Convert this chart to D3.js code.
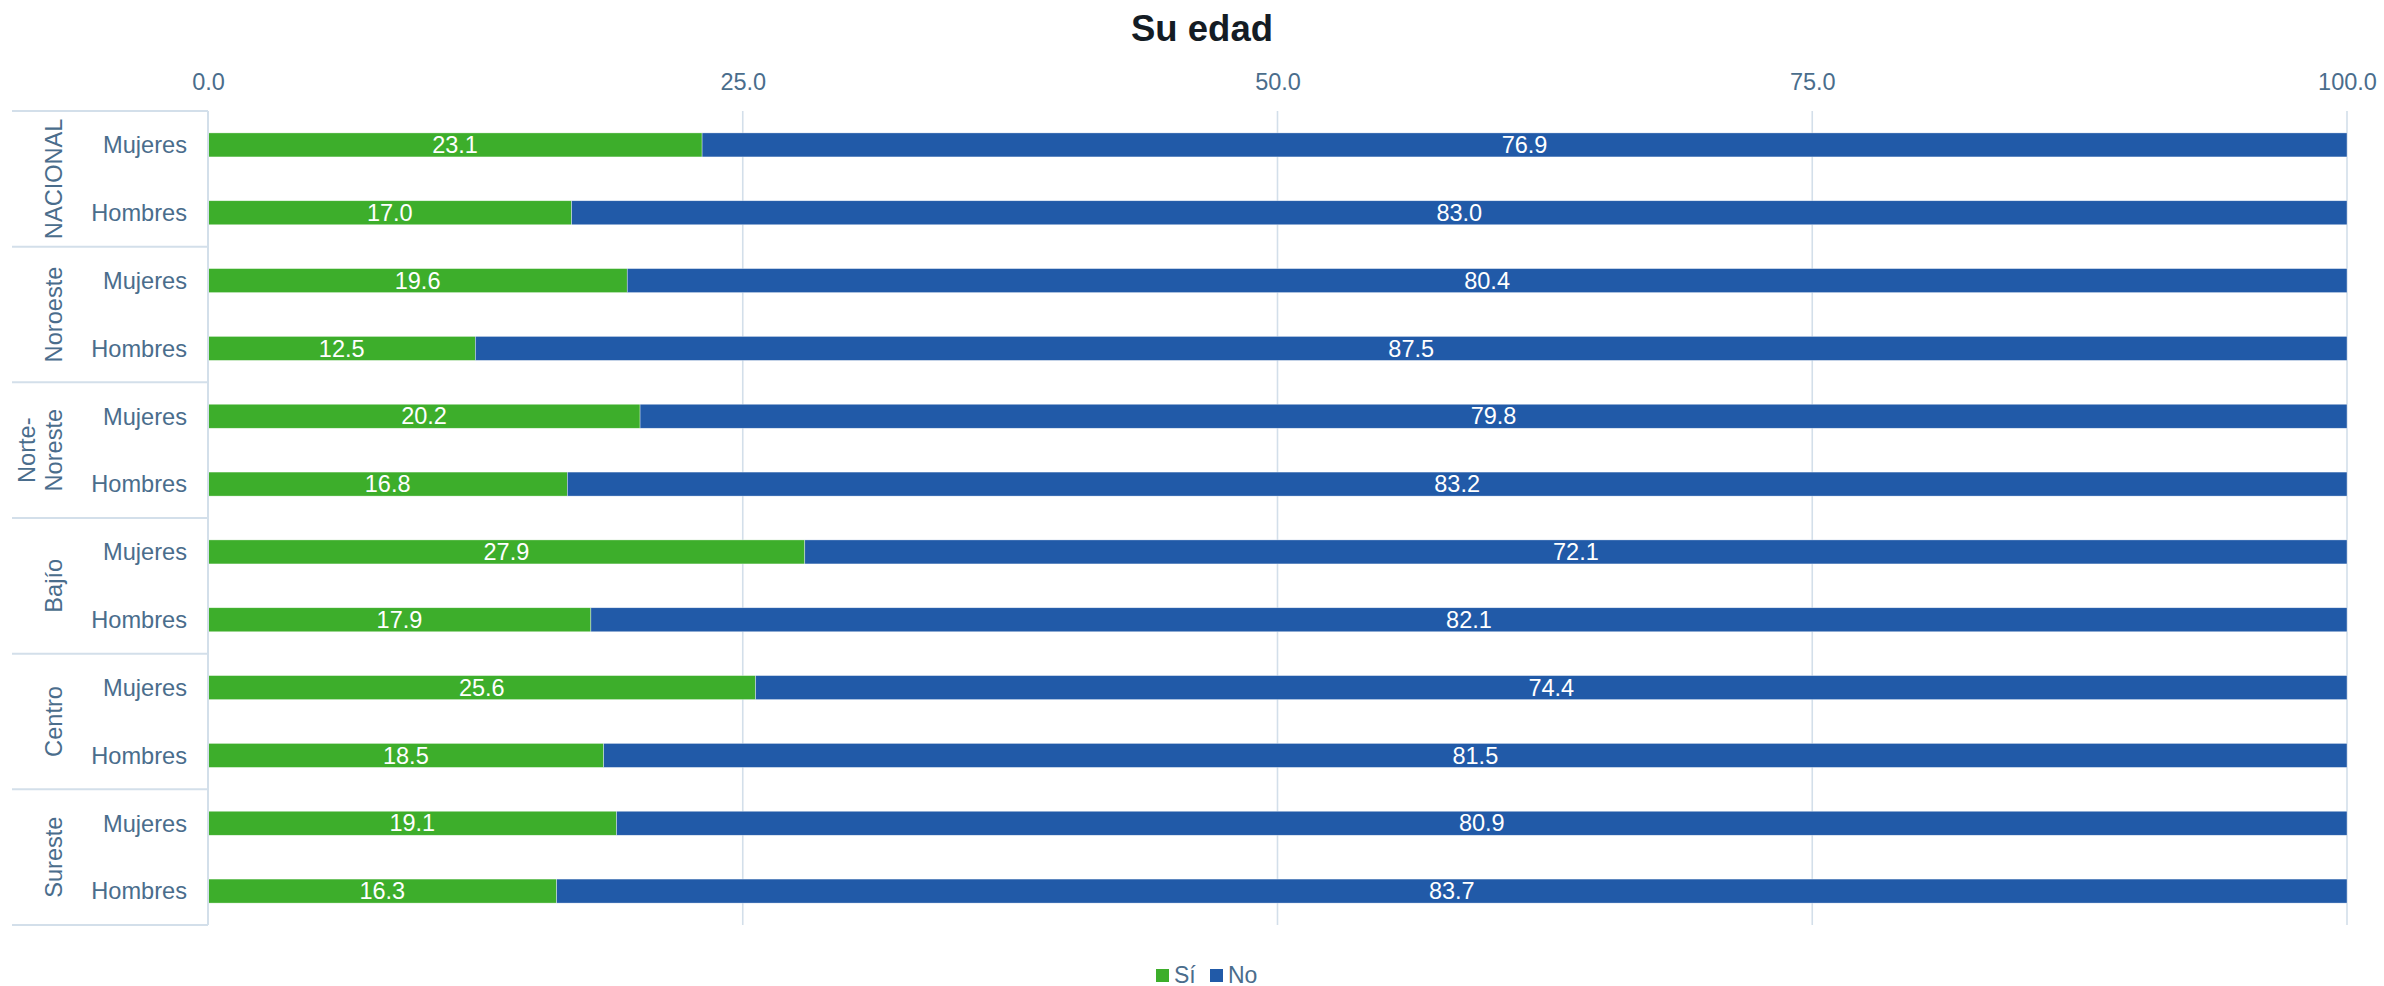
<!DOCTYPE html>
<html>
<head>
<meta charset="utf-8">
<script src="https://cdn.jsdelivr.net/npm/d3@7"></script>
<style>
  html, body { margin: 0; padding: 0; background: #ffffff; }
  svg { display: block; }
  text { font-family: "Liberation Sans", Arial, Helvetica, sans-serif; }
</style>
</head>
<body>
<script>
// ---- Data ----
const title = "Su edad";
const groups = ["NACIONAL", "Noroeste", "Norte-Noreste", "Bajío", "Centro", "Sureste"];
const groupLines = [["NACIONAL"], ["Noroeste"], ["Norte-", "Noreste"], ["Bajío"], ["Centro"], ["Sureste"]];
const sexes = ["Mujeres", "Hombres"];
const seriesNames = ["Sí", "No"];
const siValues = [23.1, 17.0, 19.6, 12.5, 20.2, 16.8, 27.9, 17.9, 25.6, 18.5, 19.1, 16.3];
const noValues = [76.9, 83.0, 80.4, 87.5, 79.8, 83.2, 72.1, 82.1, 74.4, 81.5, 80.9, 83.7];
const tickValues = [0, 25, 50, 75, 100];

// ---- Layout ----
const W = 2384, H = 986;
const plot = { left: 208, right: 2347, top: 111, bottom: 925 };
const colors = { "Sí": "#3dae2b", "No": "#215aa8" };
const textColor = "#4a6d8c";
const gridColor = "#d3dfea";

const rows = [];
groups.forEach((g, gi) => sexes.forEach((s, si) => {
  const i = gi * sexes.length + si;
  rows.push({ key: g + "|" + s, group: g, sex: s, si: siValues[i], no: noValues[i] });
}));

const svg = d3.select("body").append("svg").attr("width", W).attr("height", H);

const x = d3.scaleLinear().domain([0, 100]).range([plot.left, plot.right]);
const pad = 0.646;
const y = d3.scaleBand().domain(rows.map(r => r.key))
  .range([plot.top, plot.bottom]).paddingInner(pad).paddingOuter(pad / 2);
const step = y.step();

// title
svg.append("text").attr("x", 1202).attr("y", 41)
  .attr("text-anchor", "middle").attr("font-size", 36.5).attr("font-weight", "bold")
  .attr("fill", "#141c24").text(title);

// gridlines
svg.append("g").selectAll("line").data(tickValues.filter(d => d > 0)).join("line")
  .attr("x1", d => x(d)).attr("x2", d => x(d))
  .attr("y1", plot.top).attr("y2", plot.bottom)
  .attr("stroke", gridColor).attr("stroke-width", 1.6);

// top axis
const axis = svg.append("g").attr("transform", `translate(0,${plot.top})`)
  .call(d3.axisTop(x).tickValues(tickValues).tickFormat(d3.format(".1f")).tickSize(0).tickPadding(21));
axis.select(".domain").remove();
axis.selectAll("text").attr("font-size", 23.5).attr("fill", textColor)
  .attr("font-family", "'Liberation Sans', Arial, sans-serif");

// stacked bars
const stack = d3.stack().keys(["si", "no"])(rows);
const layer = svg.append("g").selectAll("g").data(stack).join("g")
  .attr("fill", (d, i) => colors[seriesNames[i]]);
layer.selectAll("rect").data(d => d).join("rect")
  .attr("x", d => x(d[0])).attr("width", d => x(d[1]) - x(d[0]))
  .attr("y", d => y(d.data.key)).attr("height", y.bandwidth())
  .attr("stroke", "#ffffff").attr("stroke-width", 0.6).attr("stroke-opacity", 0.6);

// bar labels
layer.selectAll("text").data(d => d).join("text")
  .attr("x", d => (x(d[0]) + x(d[1])) / 2)
  .attr("y", d => y(d.data.key) + y.bandwidth() / 2)
  .attr("dy", "0.35em").attr("text-anchor", "middle")
  .attr("font-size", 23.5).attr("fill", "#ffffff")
  .text(d => d3.format(".1f")(d[1] - d[0]));

// left axis frame
svg.append("line").attr("x1", plot.left).attr("x2", plot.left)
  .attr("y1", plot.top).attr("y2", plot.bottom)
  .attr("stroke", gridColor).attr("stroke-width", 2);
const groupBounds = d3.range(groups.length + 1).map(k => plot.top + k * sexes.length * step);
svg.append("g").selectAll("line").data(groupBounds).join("line")
  .attr("x1", 12).attr("x2", plot.left)
  .attr("y1", d => d).attr("y2", d => d)
  .attr("stroke", gridColor).attr("stroke-width", 2);

// sub-category labels
svg.append("g").selectAll("text").data(rows).join("text")
  .attr("x", 187).attr("y", d => y(d.key) + y.bandwidth() / 2)
  .attr("dy", "0.35em").attr("text-anchor", "end")
  .attr("font-size", 23.6).attr("fill", textColor).text(d => d.sex);

// group labels (rotated)
const gl = svg.append("g").selectAll("g").data(groups).join("g")
  .attr("transform", (d, i) => {
    const cy = (groupBounds[i] + groupBounds[i + 1]) / 2;
    return `translate(62,${cy}) rotate(-90)`;
  });
gl.selectAll("text").data((d, i) => groupLines[i].map((t, j, arr) => ({ t, off: j - (arr.length - 1) })))
  .join("text")
  .attr("x", 0).attr("y", d => d.off * 27)
  .attr("text-anchor", "middle").attr("font-size", 23.6).attr("fill", textColor)
  .text(d => d.t);

// legend
const legendItems = [{ name: "Sí", x: 1156 }, { name: "No", x: 1210 }];
const lg = svg.append("g").selectAll("g").data(legendItems).join("g")
  .attr("transform", d => `translate(${d.x},969)`);
lg.append("rect").attr("width", 13).attr("height", 13).attr("fill", d => colors[d.name]);
lg.append("text").attr("x", 18).attr("y", 13.5).attr("font-size", 23)
  .attr("fill", textColor).text(d => d.name);
</script>
</body>
</html>
